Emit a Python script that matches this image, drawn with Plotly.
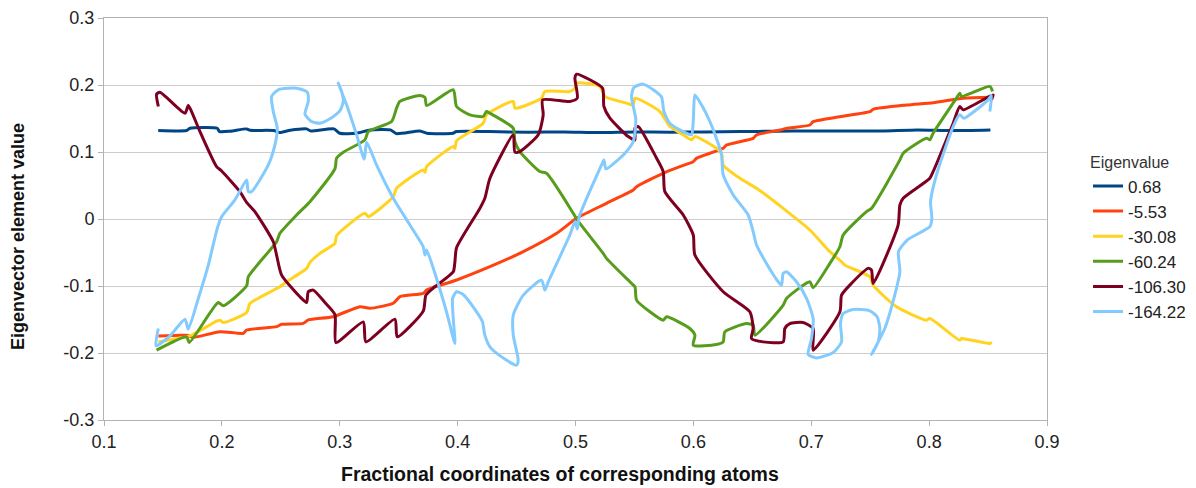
import plotly.graph_objects as go

# ---- data (x = fractional coordinate, y = eigenvector element value) ----
series_names = ["0.68", "-5.53", "-30.08", "-60.24", "-106.30", "-164.22"]
series_colors = ["#004586", "#ff420e", "#ffd320", "#579d1c", "#7e0021", "#83caff"]

ev_068 = [(0.146, 0.132), (0.170, 0.132), (0.173, 0.1355), (0.196, 0.1355), (0.198, 0.1305),
          (0.207, 0.131), (0.221, 0.1345), (0.224, 0.1325), (0.244, 0.132), (0.249, 0.129),
          (0.258, 0.1325), (0.272, 0.1345), (0.275, 0.1315), (0.295, 0.1345), (0.300, 0.128),
          (0.314, 0.128), (0.326, 0.133), (0.343, 0.133), (0.348, 0.1275), (0.368, 0.1315),
          (0.374, 0.128), (0.396, 0.128), (0.399, 0.1305), (0.427, 0.1305), (0.46, 0.1295),
          (0.49, 0.130), (0.52, 0.129), (0.55, 0.130), (0.58, 0.1295), (0.61, 0.130),
          (0.64, 0.1305), (0.67, 0.131), (0.70, 0.1315), (0.73, 0.1315), (0.76, 0.1315),
          (0.79, 0.133), (0.82, 0.132), (0.852, 0.133)]

ev_553 = [(0.1461, -0.1746), (0.1701, -0.1736), (0.1758, -0.1766), (0.1984, -0.1682), (0.2182, -0.1706),
          (0.2210, -0.1657), (0.2465, -0.1607), (0.2507, -0.1572), (0.2691, -0.1557), (0.2733, -0.1507),
          (0.2945, -0.1458), (0.3171, -0.1309), (0.3256, -0.1333), (0.3454, -0.1258), (0.3511, -0.1159),
          (0.3709, -0.1109), (0.3737, -0.1060), (0.3992, -0.0910), (0.4274, -0.0712), (0.4557, -0.0488),
          (0.4840, -0.0214), (0.5009, 0.0010), (0.5263, 0.0234), (0.5490, 0.0433), (0.5518, 0.0482),
          (0.5744, 0.0682), (0.5885, 0.0781), (0.5998, 0.0855), (0.6026, 0.0905), (0.6252, 0.1055),
          (0.6281, 0.1104), (0.6507, 0.1204), (0.6535, 0.1254), (0.6734, 0.1328), (0.6790, 0.1353),
          (0.6988, 0.1403), (0.7016, 0.1453), (0.7243, 0.1527), (0.7497, 0.1602), (0.7525, 0.1637),
          (0.7808, 0.1701), (0.8035, 0.1736), (0.8289, 0.1801), (0.8530, 0.1816)]

ev_3008 = [(0.1461, -0.1834), (0.1588, -0.1794), (0.1729, -0.1744), (0.1955, -0.1525), (0.1984, -0.1510),
           (0.2012, -0.1545), (0.2210, -0.1395), (0.2238, -0.1261), (0.2492, -0.1011), (0.2549, -0.0937),
           (0.2719, -0.0737), (0.2747, -0.0648), (0.2832, -0.0513), (0.2959, -0.0364), (0.2973, -0.0249),
           (0.3213, 0.0085), (0.3242, 0.0035), (0.3454, 0.0334), (0.3482, 0.0458), (0.3708, 0.0732),
           (0.3723, 0.0698), (0.3737, 0.0782), (0.3963, 0.1081), (0.3977, 0.1056), (0.3991, 0.1166),
           (0.4217, 0.1430), (0.4245, 0.1555), (0.4472, 0.1754), (0.4486, 0.1654), (0.4712, 0.1804),
           (0.4740, 0.1903), (0.4952, 0.1903), (0.4995, 0.1953), (0.5009, 0.2028), (0.5207, 0.1978),
           (0.5249, 0.1829), (0.5433, 0.1729), (0.5490, 0.1704), (0.5504, 0.1804), (0.5716, 0.1604),
           (0.5801, 0.1380), (0.5914, 0.1256), (0.5984, 0.1181), (0.6013, 0.1231), (0.6196, 0.1056),
           (0.6239, 0.0982), (0.6253, 0.0807), (0.6394, 0.0608), (0.6536, 0.0458), (0.6762, 0.0159),
           (0.6988, -0.0164), (0.7158, -0.0488), (0.7257, -0.0638), (0.7285, -0.0688), (0.7497, -0.0862),
           (0.7525, -0.0987), (0.7723, -0.1310), (0.7978, -0.1510), (0.8006, -0.1485), (0.8260, -0.1809),
           (0.8275, -0.1784), (0.8515, -0.1858), (0.8529, -0.1834)]

ev_6024 = [(0.1446, -0.1958), (0.1701, -0.1759), (0.1723, -0.1844), (0.1969, -0.1246), (0.2012, -0.1295),
           (0.2210, -0.0997), (0.2224, -0.0862), (0.2464, -0.0339), (0.2492, -0.0214), (0.2634, 0.0060),
           (0.2747, 0.0259), (0.2959, 0.0747), (0.2973, 0.0907), (0.3030, 0.0997), (0.3213, 0.1181),
           (0.3242, 0.1305), (0.3440, 0.1455), (0.3482, 0.1654), (0.3510, 0.1754), (0.3680, 0.1844),
           (0.3723, 0.1814), (0.3737, 0.1694), (0.3963, 0.1928), (0.3991, 0.1679), (0.4104, 0.1555),
           (0.4217, 0.1530), (0.4245, 0.1604), (0.4274, 0.1579), (0.4472, 0.1355), (0.4486, 0.1156),
           (0.4528, 0.1006), (0.4698, 0.0708), (0.4754, 0.0683), (0.4981, 0.0085), (0.5009, 0.0000),
           (0.5235, -0.0513), (0.5263, -0.0588), (0.5461, -0.0937), (0.5504, -0.1011), (0.5518, -0.1211),
           (0.5631, -0.1385), (0.5744, -0.1510), (0.5772, -0.1460), (0.5970, -0.1634), (0.6013, -0.1734),
           (0.5999, -0.1883), (0.6196, -0.1873), (0.6253, -0.1834), (0.6267, -0.1684), (0.6451, -0.1560),
           (0.6507, -0.1584), (0.6522, -0.1734), (0.6762, -0.1285), (0.6790, -0.1186), (0.6988, -0.0937),
           (0.7016, -0.1026), (0.7158, -0.0663), (0.7243, -0.0414), (0.7271, -0.0239), (0.7469, 0.0110),
           (0.7511, 0.0159), (0.7752, 0.0882), (0.7780, 0.0982), (0.7978, 0.1206), (0.8006, 0.1181),
           (0.8034, 0.1281), (0.8232, 0.1804), (0.8260, 0.1878), (0.8275, 0.1829), (0.8515, 0.1978),
           (0.8538, 0.1903)]

ev_10630 = [(0.1461, 0.1679), (0.1446, 0.1863), (0.1475, 0.1893), (0.1687, 0.1579), (0.1715, 0.1694),
            (0.1743, 0.1604), (0.1814, 0.1305), (0.1955, 0.0782), (0.1998, 0.0717), (0.2153, 0.0409),
            (0.2210, 0.0249), (0.2280, 0.0110), (0.2436, -0.0339), (0.2464, -0.0538), (0.2507, -0.0837),
            (0.2662, -0.1161), (0.2719, -0.1246), (0.2733, -0.1086), (0.2775, -0.1061), (0.2874, -0.1246),
            (0.2959, -0.1425), (0.2968, -0.1844), (0.3199, -0.1535), (0.3222, -0.1834), (0.3468, -0.1495),
            (0.3488, -0.1759), (0.3708, -0.1375), (0.3731, -0.1136), (0.3807, -0.1011), (0.3963, -0.0787),
            (0.3977, -0.0638), (0.3991, -0.0428), (0.4189, 0.0159), (0.4231, 0.0309), (0.4274, 0.0608),
            (0.4472, 0.1256), (0.4486, 0.0997), (0.4528, 0.1006), (0.4684, 0.1256), (0.4726, 0.1555),
            (0.4721, 0.1779), (0.4952, 0.1754), (0.5015, 0.1804), (0.4995, 0.2103), (0.5009, 0.2162),
            (0.5122, 0.2078), (0.5230, 0.1953), (0.5241, 0.1679), (0.5292, 0.1505), (0.5447, 0.1231),
            (0.5504, 0.1181), (0.5504, 0.1355), (0.5532, 0.1380), (0.5688, 0.0907), (0.5744, 0.0708),
            (0.5758, 0.0409), (0.5914, 0.0060), (0.5999, -0.0239), (0.6013, -0.0538), (0.6253, -0.1086),
            (0.6479, -0.1385), (0.6507, -0.1634), (0.6493, -0.1784), (0.6592, -0.1834), (0.6762, -0.1834),
            (0.6776, -0.1634), (0.6818, -0.1560), (0.6931, -0.1545), (0.7016, -0.1634), (0.7016, -0.1958),
            (0.7243, -0.1385), (0.7257, -0.1136), (0.7327, -0.0987), (0.7483, -0.0737), (0.7511, -0.0762),
            (0.7525, -0.0962), (0.7737, -0.0090), (0.7752, 0.0209), (0.7780, 0.0309), (0.8006, 0.0608),
            (0.8034, 0.0708), (0.8204, 0.1430), (0.8260, 0.1679), (0.8289, 0.1629), (0.8543, 0.1853),
            (0.8529, 0.1779)]

ev_16422 = [(0.1461, -0.1634), (0.1441, -0.1893), (0.1560, -0.1744), (0.1687, -0.1495), (0.1715, -0.1644),
            (0.1800, -0.1186), (0.1885, -0.0688), (0.1961, -0.0140), (0.1998, 0.0035), (0.2111, 0.0284),
            (0.2210, 0.0583), (0.2224, 0.0409), (0.2252, 0.0409), (0.2394, 0.0807), (0.2450, 0.1106),
            (0.2470, 0.1355), (0.2436, 0.1604), (0.2422, 0.1829), (0.2478, 0.1928), (0.2634, 0.1953),
            (0.2724, 0.1893), (0.2733, 0.1754), (0.2705, 0.1565), (0.2761, 0.1455), (0.2832, 0.1430),
            (0.2917, 0.1495), (0.3001, 0.1614), (0.3030, 0.1754), (0.3016, 0.1903), (0.2987, 0.2028),
            (0.3058, 0.1704), (0.3143, 0.1256), (0.3208, 0.0892), (0.3228, 0.1146), (0.3312, 0.0807),
            (0.3454, 0.0309), (0.3595, -0.0090), (0.3708, -0.0414), (0.3723, -0.0538), (0.3737, -0.0463),
            (0.3821, -0.0887), (0.3906, -0.1385), (0.3977, -0.1858), (0.3957, -0.1186), (0.3991, -0.1086),
            (0.4047, -0.1126), (0.4161, -0.1385), (0.4210, -0.1530), (0.4231, -0.1734), (0.4274, -0.1908),
            (0.4373, -0.2058), (0.4500, -0.2182), (0.4514, -0.2108), (0.4472, -0.1734), (0.4472, -0.1435),
            (0.4557, -0.1136), (0.4712, -0.0912), (0.4740, -0.1061), (0.4769, -0.0937), (0.4952, -0.0239),
            (0.4995, -0.0040), (0.5015, -0.0149), (0.5032, 0.0035), (0.5221, 0.0807), (0.5241, 0.0882),
            (0.5258, 0.0747), (0.5419, 0.0982), (0.5490, 0.1156), (0.5512, 0.1480), (0.5475, 0.1829),
            (0.5495, 0.1963), (0.5574, 0.2013), (0.5659, 0.1928), (0.5730, 0.1820), (0.5750, 0.1604),
            (0.5800, 0.1430), (0.5914, 0.1305), (0.5984, 0.1256), (0.6000, 0.1500), (0.6013, 0.1853),
            (0.6069, 0.1704), (0.6140, 0.1455), (0.6210, 0.1131), (0.6239, 0.0957), (0.6253, 0.0658),
            (0.6338, 0.0359), (0.6465, 0.0060), (0.6507, -0.0189), (0.6536, -0.0389), (0.6620, -0.0663),
            (0.6720, -0.0937), (0.6748, -0.0987), (0.6762, -0.0812), (0.6790, -0.0787), (0.6875, -0.0937),
            (0.6960, -0.1186), (0.7016, -0.1485), (0.7002, -0.1784), (0.6974, -0.2023), (0.7045, -0.2073),
            (0.7186, -0.1993), (0.7257, -0.1834), (0.7248, -0.1560), (0.7271, -0.1410), (0.7356, -0.1350),
            (0.7497, -0.1370), (0.7559, -0.1460), (0.7582, -0.1634), (0.7568, -0.1834), (0.7511, -0.2023),
            (0.7624, -0.1634), (0.7701, -0.1186), (0.7752, -0.0787), (0.7740, -0.0488), (0.7814, -0.0314),
            (0.8006, -0.0115), (0.8023, 0.0010), (0.8012, 0.0259), (0.8062, 0.0658), (0.8204, 0.1380),
            (0.8260, 0.1555), (0.8294, 0.1505), (0.8501, 0.1779), (0.8529, 0.1843), (0.8515, 0.1604)]

x_ticks = [0.1, 0.2, 0.3, 0.4, 0.5, 0.6, 0.7, 0.8, 0.9]
x_ticktext = ["0.1", "0.2", "0.3", "0.4", "0.5", "0.6", "0.7", "0.8", "0.9"]
y_ticks = [-0.3, -0.2, -0.1, 0.0, 0.1, 0.2, 0.3]
y_ticktext = ["-0.3", "-0.2", "-0.1", "0", "0.1", "0.2", "0.3"]

x_title = "Fractional coordinates of corresponding atoms"
y_title = "Eigenvector element value"
legend_title = "Eigenvalue"

all_series = [ev_068, ev_553, ev_3008, ev_6024, ev_10630, ev_16422]

FONT = "Liberation Sans, Arial, sans-serif"
AXIS_C = "#b3b3b3"

fig = go.Figure()
for name, color, pts in zip(series_names, series_colors, all_series):
    xs = [p[0] for p in pts]
    ys = [p[1] for p in pts]
    fig.add_trace(go.Scatter(
        x=xs, y=ys, mode="lines", name=name,
        line=dict(color=color, width=3, shape="spline", smoothing=0.6),
    ))

# The canvas is a little wider than the 1196 px window so the legend is not
# pushed left; the part beyond the window is empty.
fig.update_layout(
    width=1240, height=488,
    margin=dict(l=104, r=193, t=18, b=68, autoexpand=False),
    paper_bgcolor="white", plot_bgcolor="white",
    font=dict(family=FONT, size=17, color="#222222"),
    showlegend=True,
    legend=dict(
        x=1.0435, y=0.6775, xanchor="left", yanchor="top",
        bgcolor="rgba(0,0,0,0)", borderwidth=0,
        font=dict(family=FONT, size=17, color="#222222"),
        title=dict(text=legend_title, font=dict(family=FONT, size=16, color="#333333")),
        itemwidth=30, tracegroupgap=0,
    ),
    xaxis=dict(
        range=[0.1, 0.9], tickvals=x_ticks, ticktext=x_ticktext,
        showgrid=False, zeroline=False,
        showline=True, linecolor=AXIS_C, linewidth=1, mirror=True,
        ticks="outside", ticklen=5, tickcolor=AXIS_C,
        tickfont=dict(family=FONT, size=18, color="#222222"),
    ),
    yaxis=dict(
        range=[-0.3, 0.3], tickvals=y_ticks, ticktext=y_ticktext,
        showgrid=True, gridcolor="#cccccc", gridwidth=1, zeroline=False,
        showline=True, linecolor=AXIS_C, linewidth=1, mirror=True,
        ticks="outside", ticklen=5, tickcolor=AXIS_C,
        tickfont=dict(family=FONT, size=18, color="#222222"),
    ),
    annotations=[
        dict(text="<b>" + x_title + "</b>", xref="paper", yref="paper",
             x=0.4836, y=0, xanchor="center", yanchor="middle", yshift=-54,
             showarrow=False, font=dict(family=FONT, size=19.5, color="#111111")),
        dict(text="<b>" + y_title + "</b>", xref="paper", yref="paper",
             x=0, y=0.4552, xanchor="center", yanchor="middle", xshift=-86,
             textangle=-90, showarrow=False,
             font=dict(family=FONT, size=18, color="#111111")),
    ],
)

fig.write_html(
    "out.html", config={"displayModeBar": False},
    post_script=("document.body.style.margin='0px';"
                 "document.body.style.overflow='hidden';"
                 "document.documentElement.style.overflow='hidden';"),
)
